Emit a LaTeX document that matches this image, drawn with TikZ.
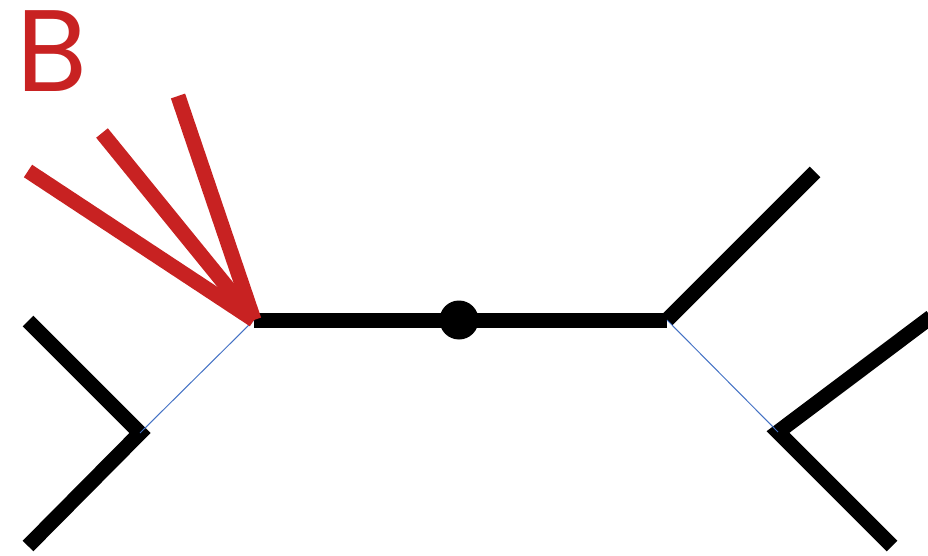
\documentclass[tikz,border=0pt]{standalone}
\usepackage{fontspec}
\newfontfamily\labelfont{Poppins}
\definecolor{branchred}{RGB}{200,34,34}
\definecolor{linkblue}{RGB}{68,114,196}
\begin{document}
\begin{tikzpicture}[x=1pt,y=-1pt,
  edge/.style={line width=15pt,line cap=butt},
  blackedge/.style={edge,black,line join=miter},
  rededge/.style={edge,branchred},
  link/.style={linkblue,line width=1pt},
  hub/.style={circle,fill=black,inner sep=0pt,minimum size=39pt}]
\useasboundingbox (0,0) rectangle (928,556);

% internal vertices
\coordinate (jl) at (254,320);
\coordinate (jr) at (667,320);
\coordinate (cl) at (140,433);
\coordinate (cr) at (778,432);
% leaf ends
\coordinate (l1) at (28,321);
\coordinate (l2) at (28,546);
\coordinate (r1) at (815,172);
\coordinate (r2) at (931,317);
\coordinate (r3) at (892,546);
\coordinate (b1) at (28,171);
\coordinate (b2) at (102,133);
\coordinate (b3) at (178,96);

% central edge with its root
\draw[blackedge] (jl) -- (jr);
\node[hub] (root) at (459,320) {};

% cherries
\draw[blackedge] (l1) -- (cl) -- (l2);
\draw[blackedge] (r2) -- (cr) -- (r3);
\draw[blackedge] (jr) -- (r1);

% thin links between junctions and cherries
\draw[link] (cl) -- (jl);
\draw[link] (jr) -- (cr);

% red fan of alternative branches
\draw[rededge] (jl) -- (b1);
\draw[rededge] (jl) -- (b2);
\draw[rededge] (jl) -- (b3);

\node[branchred,anchor=base west,inner sep=0pt,font=\labelfont\fontsize{116}{116}\selectfont] (lbl) at (16,92) {B};
\end{tikzpicture}
\end{document}
